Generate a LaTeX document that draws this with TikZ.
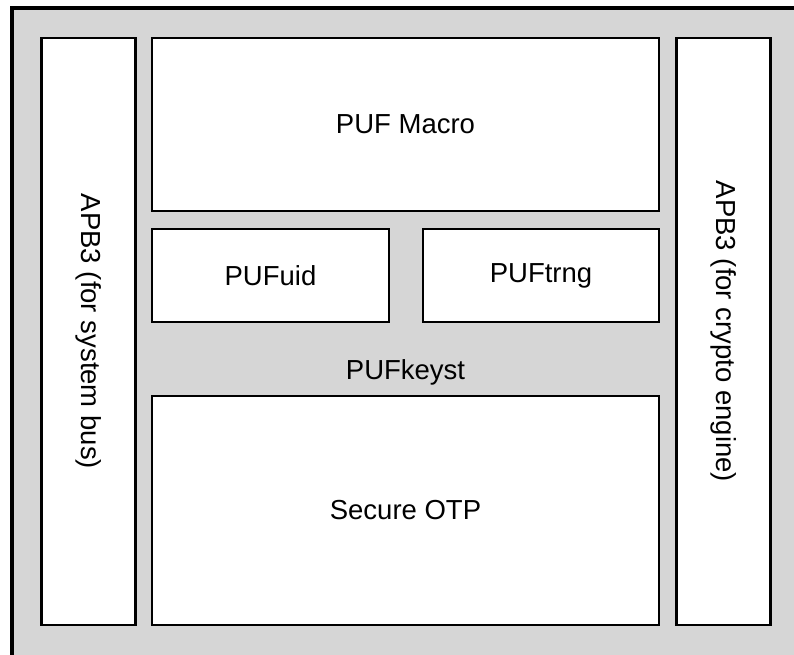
\documentclass[tikz,border=0pt]{standalone}
\usepackage{fontspec}
\setmainfont{Liberation Sans}
\usetikzlibrary{positioning}
\definecolor{bggray}{HTML}{D6D6D6}

\begin{document}
\begin{tikzpicture}[x=1pt,y=-1pt]
   \useasboundingbox (0,0) rectangle (794,654);
   \clip (0,0) rectangle (794,654);
   \tikzstyle{main}=[draw=black, fill=white, line width=2.5pt, inner sep=0pt, font=\fontsize{27.5}{33}\selectfont]
   \node[draw=black, fill=bggray, line width=4pt, inner sep=0pt, minimum width=800pt, minimum height=660pt, anchor=north west] (keyst) at (10,5.5) {};
   \node[main, minimum width=94pt, minimum height=587pt] (apbsys) at (88.5,331.5) {};
   \node[rotate=-90, font=\fontsize{27.5}{33}\selectfont] at (apbsys.center) {APB3 (for system bus)};
   \node[main, minimum width=507pt, minimum height=173pt] (macro) at (405.5,124.5) {PUF Macro};
   \node[main, minimum width=237pt, minimum height=93pt] (uid) at (270.5,275.5) {PUFuid};
   \node[main, minimum width=236pt, minimum height=93pt] (trng) at (541,275.5) {PUFtrng};
   \node[font=\fontsize{27.5}{33}\selectfont] (keystlabel) at (405.5,372) {PUFkeyst};
   \node[main, minimum width=507pt, minimum height=229pt] (otp) at (405.5,510.5) {Secure OTP};
   \node[main, minimum width=94pt, minimum height=587pt] (apbcrypto) at (723.5,331.5) {};
   \node[rotate=-90, font=\fontsize{27.5}{33}\selectfont] at (apbcrypto.center) {APB3 (for crypto engine)};
\end{tikzpicture}
\end{document}
